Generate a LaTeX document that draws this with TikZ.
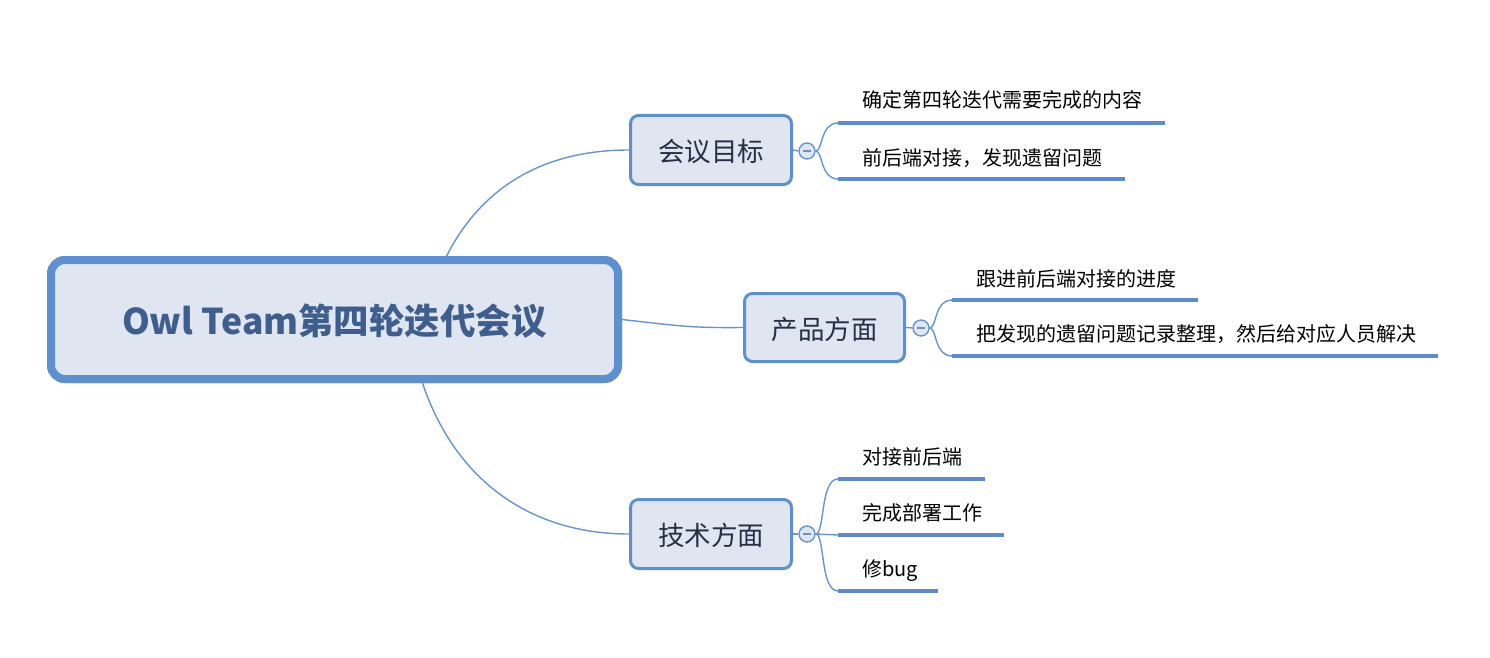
\documentclass[tikz,border=0pt]{standalone}
\usepackage{fontspec}
\setmainfont{Noto Sans CJK SC}
\usetikzlibrary{calc}
\definecolor{bord}{RGB}{96,143,205}
\definecolor{boxfill}{RGB}{223,230,241}
\definecolor{titlec}{RGB}{64,94,141}
\definecolor{branchc}{RGB}{38,48,68}
\definecolor{linkc}{RGB}{104,148,206}
\definecolor{leafl}{RGB}{92,140,202}
\tikzset{
  mainbox/.style={text height=29pt, text depth=0pt, inner sep=0pt,
    draw=bord, fill=boxfill, line width=8, rounded corners=14,
    minimum width=567, minimum height=119, text=titlec,
    font=\fontsize{35.5}{40}\selectfont\bfseries},
  branchbox/.style={text height=23pt, text depth=0pt, inner sep=0pt,
    draw=bord, fill=boxfill, line width=3, rounded corners=8,
    minimum width=161, minimum height=69, text=branchc,
    font=\fontsize{26.5}{30}\selectfont},
  collapse/.style={circle, draw=bord, fill=boxfill, line width=1.3, minimum size=16, inner sep=0pt},
  leaftext/.style={text height=16pt, text depth=0pt, inner sep=0pt,
    anchor=west, font=\fontsize{20}{24}\selectfont, text=black},
  leafline/.style={draw=leafl, line width=4},
  link/.style={draw=linkc, line width=1.4},
}
\begin{document}
\begin{tikzpicture}[x=1pt, y=-1pt]
\useasboundingbox (0,0) rectangle (1490,658);

% main
\node[mainbox] (main) at (334.5,319.5) {Owl Team第四轮迭代会议};

% branches
\node[branchbox] (b1) at (711,150) {会议目标};
\node[branchbox, minimum width=160, minimum height=68] (b2) at (824.5,327.5) {产品方面};
\node[branchbox] (b3) at (711,534) {技术方面};

% main links
\coordinate (m1) at ($(main.north west)!0.695!(main.north east)$);
\coordinate (m3) at ($(main.south west)!0.653!(main.south east)$);
\draw[link] (m1) .. controls (480,190) and (540,150) .. (b1.west);
\draw[link] (main.east) .. controls (680,326) and (690,328) .. (b2.west);
\draw[link] (m3) .. controls (455,480) and (530,534) .. (b3.west);
% redraw main box above links
\node[mainbox] at (334.5,319.5) {Owl Team第四轮迭代会议};

% collapse circles
\node[collapse] (c1) at (807,151) {};
\node[collapse] (c2) at (921,328) {};
\node[collapse] (c3) at (807,534) {};
\foreach \c in {c1,c2,c3}{
  \draw[draw=linkc!80!gray, line width=1.2] ($(\c.center)+(-4,0)$) -- ($(\c.center)+(4,0)$);
}
\draw[link] (b1.east) -- (c1.west);
\draw[link] (b2.east) -- (c2.west);
\draw[link] (b3.east) -- (c3.west);

% leaves of b1
\coordinate (l11s) at (838,123); \coordinate (l11e) at (1165,123);
\coordinate (l12s) at (838,179); \coordinate (l12e) at (1125,179);
\draw[leafline] (l11s) -- (l11e);
\draw[leafline] (l12s) -- (l12e);
\draw[link] (c1.east) .. controls (823,151) and (820,123) .. (l11s);
\draw[link] (c1.east) .. controls (823,151) and (820,179) .. (l12s);
\node[leaftext] (t11) at (862,100) {确定第四轮迭代需要完成的内容};
\node[leaftext] (t12) at (862,157) {前后端对接，发现遗留问题};

% leaves of b2
\coordinate (l21s) at (952,300); \coordinate (l21e) at (1198,300);
\coordinate (l22s) at (952,356); \coordinate (l22e) at (1438,356);
\draw[leafline] (l21s) -- (l21e);
\draw[leafline] (l22s) -- (l22e);
\draw[link] (c2.east) .. controls (937,328) and (934,300) .. (l21s);
\draw[link] (c2.east) .. controls (937,328) and (934,356) .. (l22s);
\node[leaftext] (t21) at (976,278) {跟进前后端对接的进度};
\node[leaftext] (t22) at (976,333) {把发现的遗留问题记录整理，然后给对应人员解决};

% leaves of b3
\coordinate (l31s) at (838,479); \coordinate (l31e) at (985,479);
\coordinate (l32s) at (838,535); \coordinate (l32e) at (1004,535);
\coordinate (l33s) at (838,591); \coordinate (l33e) at (938,591);
\draw[leafline] (l31s) -- (l31e);
\draw[leafline] (l32s) -- (l32e);
\draw[leafline] (l33s) -- (l33e);
\draw[link] (c3.east) .. controls (825,534) and (820,479) .. (l31s);
\draw[link] (c3.east) -- (l32s);
\draw[link] (c3.east) .. controls (825,534) and (820,591) .. (l33s);
\node[leaftext] (t31) at (862,456) {对接前后端};
\node[leaftext] (t32) at (862,512) {完成部署工作};
\node[leaftext] (t33) at (862,568) {修bug};
\end{tikzpicture}
\end{document}
